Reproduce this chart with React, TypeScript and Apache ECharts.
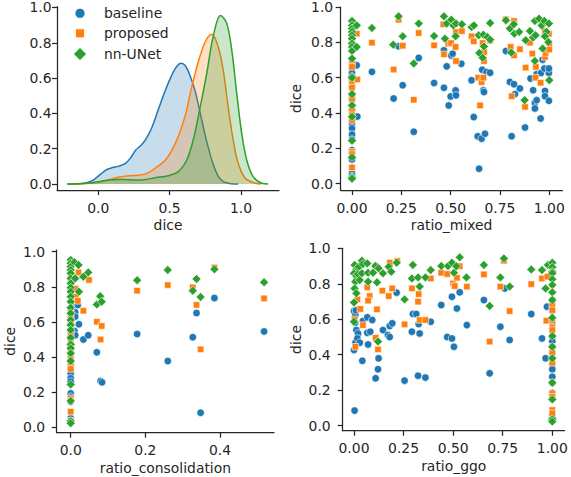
import React, { useEffect, useRef } from "react";
import * as echarts from "echarts";

const methods = ["baseline", "proposed", "nn-UNet"];
const colors = ["#1f77b4", "#ff7f0e", "#2ca02c"];
const symbols = ["circle", "rect", "diamond"];
const symbolSizes = [7.5, 6.5, 9];

const diceTicks = [0, 0.2, 0.4, 0.6, 0.8, 1.0];
const kdeXTicks = [0, 0.5, 1.0];
const ratioTicks = [0, 0.25, 0.5, 0.75, 1.0];
const consTicks = [0, 0.2, 0.4];

// KDE curves: [dice, density]
const kdeBaseline = [
  [-0.21, 0], [-0.12, 0.003], [-0.07, 0.01], [-0.03, 0.025], [0.0, 0.045], [0.03, 0.065],
  [0.06, 0.082], [0.1, 0.093], [0.14, 0.1], [0.19, 0.117], [0.23, 0.152], [0.26, 0.19],
  [0.3, 0.22], [0.33, 0.25], [0.37, 0.31], [0.42, 0.42], [0.46, 0.51], [0.5, 0.59],
  [0.54, 0.655], [0.58, 0.684], [0.61, 0.67], [0.64, 0.62], [0.68, 0.523], [0.72, 0.38],
  [0.76, 0.24], [0.8, 0.125], [0.84, 0.045], [0.88, 0.012], [0.93, 0.002], [0.98, 0],
];
const kdeProposed = [
  [-0.2, 0], [-0.1, 0.003], [-0.03, 0.006], [0.0, 0.01], [0.07, 0.023], [0.14, 0.038],
  [0.21, 0.047], [0.28, 0.049], [0.34, 0.06], [0.4, 0.09], [0.47, 0.136], [0.51, 0.183],
  [0.56, 0.268], [0.61, 0.39], [0.65, 0.533], [0.7, 0.69], [0.75, 0.806], [0.795, 0.848],
  [0.84, 0.778], [0.875, 0.646], [0.91, 0.438], [0.945, 0.25], [0.98, 0.117], [1.03, 0.032],
  [1.1, 0.004], [1.14, 0],
];
const kdeNnunet = [
  [-0.22, 0], [-0.1, 0.003], [-0.04, 0.008], [0.0, 0.013], [0.07, 0.023], [0.14, 0.026],
  [0.21, 0.024], [0.3, 0.023], [0.4, 0.036], [0.49, 0.047], [0.56, 0.07], [0.62, 0.136],
  [0.665, 0.249], [0.71, 0.42], [0.76, 0.627], [0.805, 0.835], [0.857, 0.954], [0.9, 0.91],
  [0.935, 0.76], [0.97, 0.514], [1.005, 0.287], [1.04, 0.136], [1.085, 0.042], [1.145, 0.004],
  [1.19, 0],
];

// ratio_mixed vs dice
const mixedBaseline = [
  [0, 0.652], [0, 0.627], [0, 0.586], [0, 0.548], [0, 0.5], [0, 0.476], [0, 0.435], [0, 0.416],
  [0, 0.369], [0, 0.341], [0, 0.313], [0, 0.279], [0, 0.25], [0, 0.19], [0, 0.168], [0, 0.137],
  [0, 0.058], [0, 0.043], [0.024, 0.67], [0.027, 0.38],
  [0.101, 0.633], [0.236, 0.778], [0.211, 0.482], [0.257, 0.557], [0.338, 0.712], [0.313, 0.294],
  [0.416, 0.57], [0.466, 0.755], [0.466, 0.543], [0.48, 0.664], [0.49, 0.443], [0.5, 0.494],
  [0.503, 0.726], [0.51, 0.736], [0.525, 0.528], [0.527, 0.5], [0.554, 0.679], [0.606, 0.585],
  [0.617, 0.377], [0.637, 0.268], [0.644, 0.085], [0.657, 0.255], [0.674, 0.283], [0.66, 0.645],
  [0.666, 0.528], [0.669, 0.519], [0.682, 0.632], [0.7, 0.628], [0.78, 0.751], [0.8, 0.576],
  [0.821, 0.563], [0.826, 0.507], [0.851, 0.539], [0.809, 0.269], [0.877, 0.318], [0.905, 0.595],
  [0.918, 0.529], [0.927, 0.458], [0.927, 0.426], [0.936, 0.473], [0.956, 0.369], [0.936, 0.62],
  [0.958, 0.627], [0.975, 0.652], [0.998, 0.627], [0.998, 0.652], [0.978, 0.525], [0.978, 0.495],
  [0.998, 0.469], [0.966, 0.702],
];
const mixedProposed = [
  [0, 0.82], [0, 0.689], [0, 0.661], [0, 0.567], [0, 0.544], [0, 0.48], [0, 0.416], [0, 0.388],
  [0, 0.36], [0, 0.181], [0, 0.168], [0, 0.092], [0.024, 0.849], [0.027, 0.59],
  [0.101, 0.798], [0.236, 0.928], [0.211, 0.646], [0.257, 0.781], [0.338, 0.853], [0.313, 0.475],
  [0.416, 0.783], [0.463, 0.902], [0.466, 0.732], [0.488, 0.792], [0.502, 0.796], [0.527, 0.858],
  [0.525, 0.774], [0.527, 0.694], [0.557, 0.864], [0.606, 0.834], [0.617, 0.806], [0.64, 0.6],
  [0.649, 0.443], [0.657, 0.575], [0.666, 0.6], [0.669, 0.694], [0.67, 0.745], [0.662, 0.796],
  [0.7, 0.81], [0.78, 0.93], [0.821, 0.921], [0.804, 0.774], [0.821, 0.727], [0.851, 0.761],
  [0.88, 0.657], [0.877, 0.435], [0.809, 0.495], [0.914, 0.736], [0.902, 0.798], [0.932, 0.661],
  [0.93, 0.6], [0.956, 0.571], [0.978, 0.717], [0.981, 0.74], [1.0, 0.783], [1.0, 0.759],
  [0.998, 0.849], [0.978, 0.864],
];
const mixedNnunet = [
  [0, 0.921], [0, 0.896], [0, 0.878], [0, 0.859], [0, 0.84], [0, 0.821], [0, 0.793], [0, 0.774],
  [0, 0.751], [0, 0.708], [0, 0.608], [0, 0.6], [0, 0.507], [0, 0.444], [0, 0.379], [0, 0.243],
  [0, 0.149], [0, 0.036], [0, 0.028], [0.024, 0.896], [0.024, 0.774],
  [0.101, 0.881], [0.236, 0.947], [0.209, 0.787], [0.257, 0.834], [0.338, 0.906], [0.313, 0.68],
  [0.416, 0.836], [0.466, 0.947], [0.48, 0.906], [0.471, 0.821], [0.503, 0.928], [0.514, 0.896],
  [0.527, 0.906], [0.525, 0.834], [0.557, 0.902], [0.606, 0.887], [0.618, 0.896], [0.642, 0.84],
  [0.645, 0.74], [0.662, 0.713], [0.666, 0.843], [0.669, 0.777], [0.686, 0.83], [0.7, 0.815],
  [0.7, 0.909], [0.78, 0.925], [0.8, 0.878], [0.82, 0.902], [0.823, 0.849], [0.847, 0.859],
  [0.807, 0.742], [0.88, 0.812], [0.902, 0.864], [0.918, 0.827], [0.93, 0.84], [0.927, 0.921],
  [0.948, 0.934], [0.961, 0.896], [0.975, 0.921], [0.986, 0.859], [0.978, 0.834], [0.998, 0.906],
  [0.995, 0.802], [0.966, 0.765], [0.927, 0.695], [1.0, 0.586], [0.875, 0.473],
];

// ratio_consolidation vs dice
const consBaseline = [
  [0, 0.659], [0, 0.63], [0, 0.6], [0, 0.583], [0, 0.55], [0, 0.535], [0, 0.507], [0, 0.469],
  [0, 0.43], [0, 0.4], [0, 0.383], [0, 0.355], [0, 0.326], [0, 0.308], [0, 0.279], [0, 0.26],
  [0, 0.193], [0, 0.174], [0, 0.146], [0, 0.051], [0, 0.036],
  [0.014, 0.7], [0.019, 0.696], [0.012, 0.655], [0.012, 0.63], [0.022, 0.587], [0.01, 0.548],
  [0.034, 0.5], [0.047, 0.524], [0.07, 0.427], [0.08, 0.263], [0.084, 0.256], [0.012, 0.524],
  [0.178, 0.531], [0.26, 0.377], [0.327, 0.513], [0.337, 0.651], [0.348, 0.083], [0.385, 0.736],
  [0.518, 0.546],
];
const consProposed = [
  [0, 0.85], [0, 0.8], [0, 0.678], [0, 0.649], [0, 0.624], [0, 0.602], [0, 0.545], [0, 0.526],
  [0, 0.488], [0, 0.45], [0, 0.421], [0, 0.393], [0, 0.364], [0, 0.332], [0, 0.165], [0, 0.15],
  [0, 0.089], [0, 0.036],
  [0.021, 0.882], [0.049, 0.839], [0.012, 0.79], [0.013, 0.744], [0.019, 0.72], [0.034, 0.664],
  [0.07, 0.601], [0.083, 0.577], [0.08, 0.5], [0.178, 0.778], [0.26, 0.81], [0.327, 0.797],
  [0.337, 0.697], [0.348, 0.444], [0.385, 0.91], [0.518, 0.734],
];
const consNnunet = [
  [0, 0.953], [0, 0.934], [0, 0.915], [0, 0.896], [0, 0.877], [0, 0.848], [0, 0.82], [0, 0.795],
  [0, 0.772], [0, 0.744], [0, 0.715], [0, 0.681], [0, 0.649], [0, 0.611], [0, 0.583], [0, 0.554],
  [0, 0.51], [0, 0.472], [0, 0.45], [0, 0.421], [0, 0.378], [0, 0.244], [0, 0.15], [0, 0.036],
  [0, 0.023],
  [0.01, 0.94], [0.021, 0.924], [0.012, 0.848], [0.034, 0.858], [0.047, 0.882], [0.022, 0.772],
  [0.07, 0.7], [0.079, 0.747], [0.083, 0.715], [0.178, 0.838], [0.26, 0.896], [0.337, 0.845],
  [0.327, 0.778], [0.348, 0.742], [0.385, 0.9], [0.518, 0.826],
];

// ratio_ggo vs dice
const ggoBaseline = [
  [0.003, 0.085], [0, 0.646], [0.007, 0.624], [0.012, 0.539], [0.02, 0.52], [0, 0.427],
  [0.007, 0.468], [0.017, 0.492], [0.029, 0.468], [0.042, 0.366], [0.045, 0.59], [0.067, 0.611],
  [0.092, 0.596], [0.067, 0.524], [0.082, 0.53], [0.071, 0.458], [0.109, 0.267], [0.121, 0.318],
  [0.124, 0.38], [0.146, 0.539], [0.171, 0.511], [0.18, 0.5], [0.18, 0.562], [0.193, 0.577],
  [0.215, 0.75], [0.255, 0.254], [0.292, 0.53], [0.297, 0.63], [0.314, 0.63], [0.326, 0.573],
  [0.331, 0.52], [0.323, 0.282], [0.36, 0.271], [0.387, 0.586], [0.44, 0.68], [0.47, 0.5],
  [0.494, 0.492], [0.504, 0.445], [0.494, 0.727], [0.533, 0.752], [0.519, 0.661], [0.569, 0.567],
  [0.655, 0.708], [0.684, 0.295], [0.738, 0.558], [0.76, 0.774], [0.785, 0.483], [0.894, 0.629],
  [0.948, 0.492], [0.966, 0.38], [0.973, 0.671], [0.005, 0.58], [0.01, 0.65],
  [1, 0.708], [1, 0.648], [1, 0.577], [1, 0.543], [1, 0.502], [1, 0.474], [1, 0.436], [1, 0.408],
  [1, 0.346], [1, 0.318], [1, 0.276], [1, 0.242], [1, 0.186], [1, 0.163], [1, 0.06], [1, 0.047],
];
const ggoProposed = [
  [0.024, 0.874], [0.017, 0.712], [0.032, 0.658], [0.045, 0.567], [0.007, 0.445], [0.067, 0.78],
  [0.079, 0.731], [0.071, 0.705], [0.108, 0.9], [0.116, 0.656], [0.109, 0.496], [0.121, 0.43],
  [0.143, 0.761], [0.175, 0.731], [0.18, 0.919], [0.193, 0.774], [0.218, 0.928], [0.255, 0.571],
  [0.292, 0.774], [0.326, 0.742], [0.323, 0.699], [0.331, 0.596], [0.36, 0.596], [0.387, 0.83],
  [0.44, 0.862], [0.47, 0.855], [0.5, 0.802], [0.508, 0.787], [0.533, 0.899], [0.519, 0.834],
  [0.569, 0.784], [0.655, 0.853], [0.684, 0.474], [0.738, 0.784], [0.756, 0.93], [0.785, 0.646],
  [0.894, 0.798], [0.948, 0.83], [0.97, 0.592], [0.975, 0.84], [0.003, 0.6], [0.01, 0.83],
  [1, 0.68], [1, 0.652], [1, 0.596], [1, 0.554], [1, 0.539], [1, 0.445], [1, 0.411], [1, 0.355],
  [1, 0.182], [1, 0.163], [1, 0.088], [1, 0.07],
];
const ggoNnunet = [
  [0.003, 0.906], [0.012, 0.881], [0.024, 0.896], [0.04, 0.93], [0.045, 0.911], [0.067, 0.915],
  [0, 0.859], [0.012, 0.844], [0.02, 0.855], [0.007, 0.812], [0.029, 0.821], [0.04, 0.859],
  [0.071, 0.862], [0.096, 0.862], [0.108, 0.9], [0.124, 0.887], [0.146, 0.859], [0.175, 0.896],
  [0.188, 0.868], [0.215, 0.919], [0.116, 0.808], [0.003, 0.774], [0.012, 0.746], [0, 0.695],
  [0, 0.586], [0.121, 0.474], [0.071, 0.812], [0.255, 0.712], [0.297, 0.906], [0.292, 0.83],
  [0.323, 0.836], [0.331, 0.784], [0.36, 0.836], [0.387, 0.877], [0.44, 0.9], [0.474, 0.9],
  [0.494, 0.919], [0.504, 0.862], [0.516, 0.899], [0.533, 0.949], [0.567, 0.836], [0.655, 0.906],
  [0.684, 0.675], [0.738, 0.836], [0.756, 0.943], [0.785, 0.784], [0.894, 0.881], [0.948, 0.877],
  [0.966, 0.774], [0.978, 0.906],
  [1, 0.919], [1, 0.893], [1, 0.868], [1, 0.859], [1, 0.825], [1, 0.793], [1, 0.752], [1, 0.708],
  [1, 0.609], [1, 0.505], [1, 0.445], [1, 0.38], [1, 0.242], [1, 0.148], [1, 0.036], [1, 0.023],
];

const FONT = "DejaVu Sans";
const FS = 13.9;
const INK = "#262626";

function xAxisDef(grid: number, min: number, max: number, ticks: number[], digits: number, name: string, margin: number, nameGap: number) {
  return {
    type: "value", gridIndex: grid, min, max,
    axisLine: { show: true, onZero: false, lineStyle: { color: INK, width: 1.25 } },
    axisTick: { show: true, inside: false, length: 5, customValues: ticks, lineStyle: { color: INK, width: 1.25 } },
    axisLabel: {
      customValues: ticks, margin, color: INK, fontSize: FS, fontFamily: FONT,
      formatter: (v: number) => v.toFixed(digits),
    },
    splitLine: { show: false },
    name, nameLocation: "middle", nameGap,
    nameTextStyle: { color: INK, fontSize: FS, fontFamily: FONT },
  };
}
function yAxisDef(grid: number, min: number, max: number, ticks: number[], name: string, margin: number, nameGap: number) {
  return {
    type: "value", gridIndex: grid, min, max,
    axisLine: { show: true, onZero: false, lineStyle: { color: INK, width: 1.25 } },
    axisTick: { show: true, inside: false, length: 5, customValues: ticks, lineStyle: { color: INK, width: 1.25 } },
    axisLabel: {
      customValues: ticks, margin, color: INK, fontSize: FS, fontFamily: FONT,
      formatter: (v: number) => v.toFixed(1),
    },
    splitLine: { show: false },
    name, nameLocation: "middle", nameGap,
    nameTextStyle: { color: INK, fontSize: FS, fontFamily: FONT },
  };
}

function scatterSeries(idx: number, axisIdx: number, data: number[][]) {
  return {
    type: "scatter", name: methods[idx], xAxisIndex: axisIdx, yAxisIndex: axisIdx,
    data, symbol: symbols[idx], symbolSize: symbolSizes[idx],
    itemStyle: { color: colors[idx], borderColor: "#ffffff", borderWidth: 0.6, opacity: 1 },
    z: 2 + idx,
  };
}
function kdeSeries(idx: number, data: number[][]) {
  return {
    type: "line", name: methods[idx], xAxisIndex: 0, yAxisIndex: 0, data,
    smooth: 0.35, showSymbol: false, symbol: "none",
    lineStyle: { color: colors[idx], width: 1.5 },
    areaStyle: { color: colors[idx], opacity: 0.25 },
    z: 2 + idx,
  };
}

export default function App() {
  const ref = useRef<HTMLDivElement>(null);
  useEffect(() => {
    if (!ref.current) return;
    const chart = echarts.init(ref.current, null, { renderer: "svg" });
    const textStyle = { fontSize: FS, fontFamily: FONT, fill: INK };
    chart.setOption({
      animation: false,
      backgroundColor: "#ffffff",
      grid: [
        { left: 57, top: 6.7, width: 222, height: 183.3 },
        { left: 340.7, top: 6.7, width: 221.8, height: 183.3 },
        { left: 56.7, top: 250, width: 217.3, height: 182.7 },
        { left: 342.7, top: 248.3, width: 222, height: 182.4 },
      ],
      xAxis: [
        xAxisDef(0, -0.2894, 1.2663, kdeXTicks, 1, "dice", 10.5, 28),
        xAxisDef(1, -0.0573, 1.0669, ratioTicks, 2, "ratio_mixed", 10.5, 28),
        xAxisDef(2, -0.0375, 0.5446, consTicks, 1, "ratio_consolidation", 10.5, 28),
        xAxisDef(3, -0.057, 1.0625, ratioTicks, 2, "ratio_ggo", 10.5, 28),
      ],
      yAxis: [
        yAxisDef(0, -0.034, 1.0045, diceTicks, "", 5.5, 40),
        yAxisDef(1, -0.0356, 1.0, diceTicks, "dice", 7.5, 38),
        yAxisDef(2, -0.0308, 1.0097, diceTicks, "dice", 11.5, 40),
        yAxisDef(3, -0.0282, 1.0, diceTicks, "dice", 12, 40),
      ],
      series: [
        kdeSeries(0, kdeBaseline),
        kdeSeries(1, kdeProposed),
        kdeSeries(2, kdeNnunet),
        scatterSeries(0, 1, mixedBaseline),
        scatterSeries(1, 1, mixedProposed),
        scatterSeries(2, 1, mixedNnunet),
        scatterSeries(0, 2, consBaseline),
        scatterSeries(1, 2, consProposed),
        scatterSeries(2, 2, consNnunet),
        scatterSeries(0, 3, ggoBaseline),
        scatterSeries(1, 3, ggoProposed),
        scatterSeries(2, 3, ggoNnunet),
      ],
      graphic: [
        { type: "circle", shape: { cx: 80, cy: 13.3, r: 5 }, style: { fill: colors[0], stroke: "#fff", lineWidth: 0.8 }, z: 10 },
        { type: "rect", shape: { x: 75.5, y: 28.8, width: 9, height: 9 }, style: { fill: colors[1], stroke: "#fff", lineWidth: 0.8 }, z: 10 },
        { type: "polygon", shape: { points: [[80, 47.5], [86.5, 54], [80, 60.5], [73.5, 54]] }, style: { fill: colors[2], stroke: "#fff", lineWidth: 0.8 }, z: 10 },
        { type: "text", x: 104, y: 13.3, style: { ...textStyle, text: methods[0], textVerticalAlign: "middle", verticalAlign: "middle" }, z: 10 },
        { type: "text", x: 104, y: 33.3, style: { ...textStyle, text: methods[1], textVerticalAlign: "middle", verticalAlign: "middle" }, z: 10 },
        { type: "text", x: 104, y: 54, style: { ...textStyle, text: methods[2], textVerticalAlign: "middle", verticalAlign: "middle" }, z: 10 },
      ],
    });
    return () => chart.dispose();
  }, []);
  return (
    <div
      ref={ref}
      style={{ position: "absolute", left: 0, top: 0, width: 571, height: 477, background: "#fff" }}
    />
  );
}
